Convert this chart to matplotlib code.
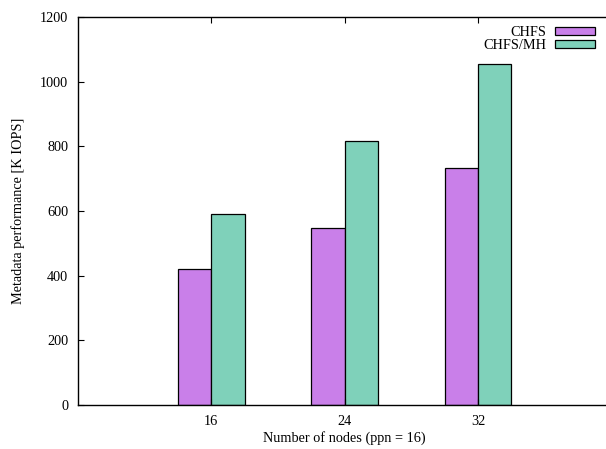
import matplotlib
matplotlib.use("Agg")
import matplotlib.pyplot as plt
import numpy as np

categories = ["16", "24", "32"]
chfs = [420, 548, 733]
chfs_mh = [591, 818, 1055]
series_names = ["CHFS", "CHFS/MH"]
colors = ["#c97fe9", "#7fd1ba"]

plt.rcParams['font.family'] = ['Liberation Serif', 'DejaVu Serif']
FS = 10.3

fig = plt.figure(figsize=(6.06, 4.49), dpi=100)
left = 78 / 606
right = 611.5 / 606
bottom = 1 - 405 / 449
top = 1 - 17 / 449
ax = fig.add_axes([left, bottom, right - left, top - bottom])

x = np.arange(len(categories))
w = 0.25
ax.bar(x - w / 2, chfs, w, color=colors[0], edgecolor='black', linewidth=0.9, label=series_names[0])
ax.bar(x + w / 2, chfs_mh, w, color=colors[1], edgecolor='black', linewidth=0.9, label=series_names[1])

ax.set_xlim(-1, 3)
ax.set_ylim(0, 1200)
ax.set_xticks(x)
ax.set_xticklabels(categories)
ax.set_yticks(np.arange(0, 1201, 200))
ax.tick_params(direction='in', length=4, width=0.8, labelsize=FS, top=True, right=False, pad=7)
ax.spines['right'].set_visible(False)
for s in ax.spines.values():
    s.set_linewidth(1.0)

ax.set_xlabel("Number of nodes (ppn = 16)", fontsize=FS, labelpad=2.5)
ax.set_ylabel("Metadata performance [K IOPS]", fontsize=FS, labelpad=11)

leg = ax.legend(loc='upper right', bbox_to_anchor=((595 - 78) / (611.5 - 78), 1 - (26 - 17) / 388),
                frameon=False, markerfirst=False, fontsize=FS,
                handlelength=2.8, handleheight=0.56, handletextpad=0.63,
                labelspacing=0.0, borderaxespad=0, borderpad=0)
for t in leg.get_texts():
    t.set_ha('right')

fig.savefig("out.png", dpi=100)
